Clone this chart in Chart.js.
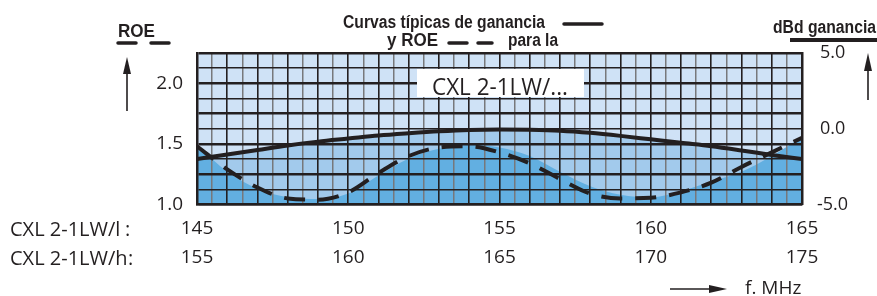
<!DOCTYPE html>
<html><head><meta charset="utf-8">
<script src="https://cdn.jsdelivr.net/npm/chart.js@4.4.1/dist/chart.umd.min.js"></script>
<style>html,body{margin:0;padding:0;background:#fff;overflow:hidden}canvas{display:block}</style>
</head><body>
<canvas id="c" width="877" height="296"></canvas>
<script>
// ---- data ----
const freqs = [145,146,147,148,149,150,151,152,153,154,155,156,157,158,159,160,161,162,163,164,165];
const roeValues = [1.48,1.29,1.14,1.05,1.04,1.10,1.26,1.40,1.47,1.48,1.43,1.34,1.21,1.09,1.05,1.055,1.10,1.18,1.31,1.43,1.55];
const roeShadeValues = [1.49,1.27,1.13,1.06,1.045,1.09,1.24,1.38,1.46,1.49,1.47,1.40,1.27,1.15,1.08,1.06,1.11,1.19,1.27,1.40,1.56];
const gainValues = [-2.0,-1.7,-1.4,-1.1,-0.85,-0.65,-0.45,-0.3,-0.17,-0.08,-0.05,-0.07,-0.13,-0.27,-0.47,-0.7,-0.93,-1.15,-1.43,-1.73,-2.0];
const lowBandLabels = ['145','150','155','160','165'];
const highBandLabels = ['155','160','165','170','175'];
const roeTickLabels = ['1.0','1.5','2.0'];
const gainTickLabels = ['-5.0','0.0','5.0'];
const rowNames = ['CXL 2-1LW/l', 'CXL 2-1LW/h'];
const modelName = 'CXL 2-1LW/...';

const ink = '#231f20';
const grey = '#77787b';
const light = '#cfe2f6';
const medium = '#a2caec';
const dark = '#62afe1';
const FONT = '"Open Sans", "Noto Sans", sans-serif';
const BOLD = '"Liberation Sans Narrow", "Liberation Sans", Arial, sans-serif';

const pts = vals => freqs.map((f, i) => ({x: f, y: vals[i]}));

function arrow(c, x1, y1, x2, y2, head, half) {
  const a = Math.atan2(y2 - y1, x2 - x1);
  const bx = x2 - head * Math.cos(a), by = y2 - head * Math.sin(a);
  c.beginPath(); c.moveTo(x1, y1); c.lineTo(bx, by); c.lineWidth = 1.6; c.stroke();
  c.beginPath();
  c.moveTo(x2, y2);
  c.lineTo(bx + half * Math.sin(a), by - half * Math.cos(a));
  c.lineTo(bx - half * Math.sin(a), by + half * Math.cos(a));
  c.closePath(); c.fill();
}
function seg(c, x1, y1, x2, y2, w) {
  c.beginPath(); c.moveTo(x1, y1); c.lineTo(x2, y2); c.lineWidth = w; c.lineCap = 'round'; c.stroke();
}

const decor = {
  id: 'decor',
  afterDraw(chart) {
    const c = chart.ctx;
    c.save();
    // model box
    c.fillStyle = '#fff';
    c.fillRect(417, 69, 167, 28);
    c.fillStyle = ink; c.strokeStyle = ink;
    c.textAlign = 'left'; c.textBaseline = 'alphabetic';
    c.font = '23px ' + FONT;
    c.fillText(modelName, 432, 95, 136);
    // headers
    c.font = 'bold 19px ' + BOLD;
    c.fillText('ROE', 118, 37, 37);
    c.font = 'bold 18px ' + BOLD;
    c.fillText('Curvas típicas de ganancia', 343, 28, 202);
    c.fillText('y ROE', 387, 46, 51);
    c.fillText('para la', 508, 46, 50);
    c.fillText('dBd ganancia', 773, 33, 103);
    seg(c, 118, 43, 136, 43, 3.5);
    seg(c, 151, 43, 169, 43, 3.5);
    seg(c, 564, 24, 602, 24, 3.5);
    seg(c, 449, 43, 467, 43, 3.5);
    seg(c, 478, 43, 492, 43, 3.5);
    c.beginPath(); c.moveTo(790, 40); c.lineTo(877, 40); c.lineWidth = 4; c.lineCap = 'butt'; c.stroke();
    // arrows
    arrow(c, 127, 111, 127, 57, 17, 4);
    arrow(c, 868, 100, 868, 53, 18, 4);
    arrow(c, 670, 289, 727, 289, 18, 4);
    // row names and unit
    c.font = '20px ' + FONT;
    c.fillText(rowNames[0], 10, 236);
    c.fillText(':', 125, 236);
    c.fillText(rowNames[1], 10, 265);
    c.fillText(':', 128, 265);
    c.font = '19px ' + FONT;
    c.fillText('f. MHz', 745, 294);
    c.restore();
  }
};

new Chart(document.getElementById('c'), {
  type: 'line',
  data: {
    datasets: [
      {label: 'ROE', data: pts(roeValues), yAxisID: 'y', borderColor: ink, borderWidth: 4,
       borderDash: [21, 13], borderCapStyle: 'butt', pointRadius: 0, fill: false,
       cubicInterpolationMode: 'monotone', order: 0},
      {label: 'Ganancia', data: pts(gainValues), yAxisID: 'y2', borderColor: ink, borderWidth: 4,
       pointRadius: 0, fill: false, cubicInterpolationMode: 'monotone', order: 1},
      {label: 'roeShade', data: pts(roeShadeValues), yAxisID: 'y', borderColor: 'transparent', borderWidth: 0,
       pointRadius: 0, fill: 'start', backgroundColor: dark, cubicInterpolationMode: 'monotone', order: 8},
      {label: 'gainShade', data: pts(gainValues), yAxisID: 'y2', borderColor: 'transparent', borderWidth: 0,
       pointRadius: 0, fill: 'start', backgroundColor: medium, cubicInterpolationMode: 'monotone', order: 9},
      {label: 'sky', data: pts(gainValues), yAxisID: 'y2', borderColor: 'transparent', borderWidth: 0,
       pointRadius: 0, fill: 'end', backgroundColor: light, cubicInterpolationMode: 'monotone', order: 10}
    ]
  },
  options: {
    responsive: false, animation: false, devicePixelRatio: 1,
    layout: {padding: {top: 53, left: 0, right: 0, bottom: 0}},
    plugins: {legend: {display: false}, tooltip: {enabled: false}, filler: {drawTime: 'beforeDraw'}},
    scales: {
      x: {
        type: 'linear', min: 145, max: 165,
        afterFit: s => { s.height = 91.5; },
        grid: {drawTicks: false,
               color: ctx => Number.isInteger(ctx.tick && ctx.tick.value) ? ink : grey,
               lineWidth: ctx => Number.isInteger(ctx.tick && ctx.tick.value) ? 1.6 : 1.5},
        border: {display: true, color: ink, width: 2.5},
        ticks: {stepSize: 0.5, autoSkip: false, maxRotation: 0, padding: 10, color: ink,
                font: {family: FONT, size: 19, lineHeight: 1.52},
                callback: v => {
                  const i = lowBandLabels.indexOf(String(v));
                  return i >= 0 ? [lowBandLabels[i], highBandLabels[i]] : '';
                }}
      },
      y: {
        type: 'linear', position: 'left', min: 1.0, max: 2.25,
        afterFit: s => { s.width = 197; },
        grid: {drawTicks: false, color: ink,
               lineWidth: ctx => (ctx.tick && Math.abs(ctx.tick.value / 0.25 - Math.round(ctx.tick.value / 0.25)) < 1e-6) ? 2.4 : 1.4},
        border: {display: true, color: ink, width: 2.5},
        ticks: {stepSize: 0.125, autoSkip: false, padding: 14, color: ink,
                font: {family: FONT, size: 19},
                callback: v => {
                  const i = roeTickLabels.findIndex(t => Math.abs(parseFloat(t) - v) < 1e-6);
                  return i >= 0 ? roeTickLabels[i] : '';
                }}
      },
      y2: {
        type: 'linear', position: 'right', min: -5, max: 5,
        afterFit: s => { s.width = 75; },
        grid: {display: false, drawTicks: false},
        border: {display: true, color: ink, width: 2.5},
        ticks: {stepSize: 5, autoSkip: false, padding: 15, color: ink, crossAlign: 'center',
                font: {family: FONT, size: 18},
                callback: v => {
                  const i = gainTickLabels.findIndex(t => Math.abs(parseFloat(t) - v) < 1e-6);
                  return i >= 0 ? gainTickLabels[i] : '';
                }}
      }
    }
  },
  plugins: [decor]
});
</script>
</body></html>
